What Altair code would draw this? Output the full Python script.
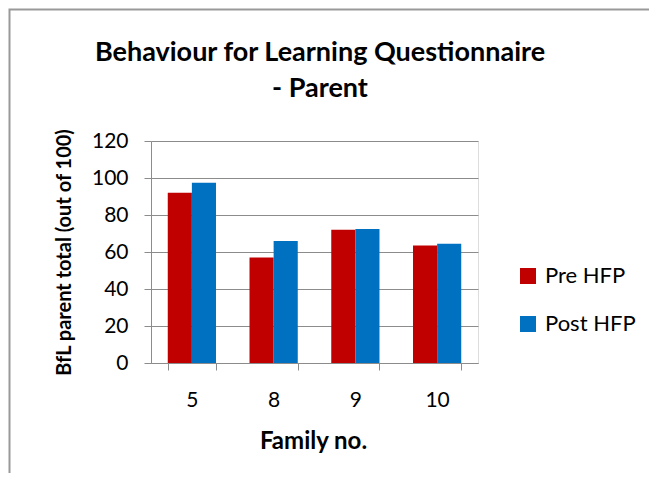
import altair as alt
import pandas as pd

families = ["5", "8", "9", "10"]
pre_hfp = [92, 57, 72, 63.5]
post_hfp = [97.5, 66, 72.5, 64.5]
series = ["Pre HFP", "Post HFP"]
colors = ["#C00000", "#0070C0"]
title_lines = ["Behaviour for Learning Questionnaire", "- Parent"]

rows = []
for f, a, b in zip(families, pre_hfp, post_hfp):
    rows.append({"Family": f, "Series": series[0], "Value": a})
    rows.append({"Family": f, "Series": series[1], "Value": b})
df = pd.DataFrame(rows)

FONT = "Lato"
GRAY = "#8c8c8c"

bars = alt.Chart(df).mark_bar().encode(
    x=alt.X("Family:N", sort=families,
            scale=alt.Scale(paddingInner=0.41, paddingOuter=0.205),
            axis=alt.Axis(title="Family no.", labelAngle=0, tickBand="extent",
                          tickSize=7, tickColor=GRAY, domainColor=GRAY,
                          labelFontSize=21, labelFont=FONT, labelColor="#000",
                          labelPadding=19,
                          titleFont=FONT, titleFontSize=24, titleFontWeight="bold",
                          titleColor="#000", titleX=162, titleY=78,
                          titleBaseline="middle", titleAlign="center")),
    xOffset=alt.XOffset("Series:N", sort=series),
    y=alt.Y("Value:Q", scale=alt.Scale(domain=[0, 120]),
            axis=alt.Axis(title="BfL parent total (out of 100)", values=[0, 20, 40, 60, 80, 100, 120],
                          tickSize=7, tickColor=GRAY, domainColor=GRAY,
                          gridColor=GRAY, gridOpacity=1,
                          labelFontSize=21, labelFont=FONT, labelColor="#000",
                          labelPadding=16,
                          titleFont=FONT, titleFontSize=20, titleFontWeight="bold",
                          titleColor="#000", titleX=-87, titleY=111,
                          titleBaseline="middle", titleAlign="center")),
    color=alt.Color("Series:N", sort=series,
                    scale=alt.Scale(domain=series, range=colors),
                    legend=alt.Legend(title=None, orient="none", legendX=366, legendY=124,
                                      symbolType="square", symbolSize=256,
                                      symbolStrokeWidth=0,
                                      labelFont=FONT, labelFontSize=22, labelColor="#000",
                                      labelOffset=6, rowPadding=26)),
)

frame = alt.Chart(alt.Data(values=[{}])).mark_rect(
    fill=None, stroke="#999999", strokeWidth=2
).encode(
    x=alt.value(-141.5), x2=alt.value(700),
    y=alt.value(-131.5), y2=alt.value(500),
)

title = alt.Chart(alt.Data(values=[{}])).mark_text(
    text=title_lines, font=FONT, fontSize=27, fontWeight="bold", color="#000",
    lineHeight=36, align="center", baseline="alphabetic"
).encode(
    x=alt.value(169), y=alt.value(-80),
)

chart = alt.layer(bars, frame, title).properties(
    width=327, height=222,
    padding={"left": 143, "top": 133, "right": 171, "bottom": 110},
    autosize=alt.AutoSizeParams(type="none"),
).configure_view(stroke=None).configure(background="white")

chart.save("out.html", embed_options={"renderer": "svg", "actions": False})
